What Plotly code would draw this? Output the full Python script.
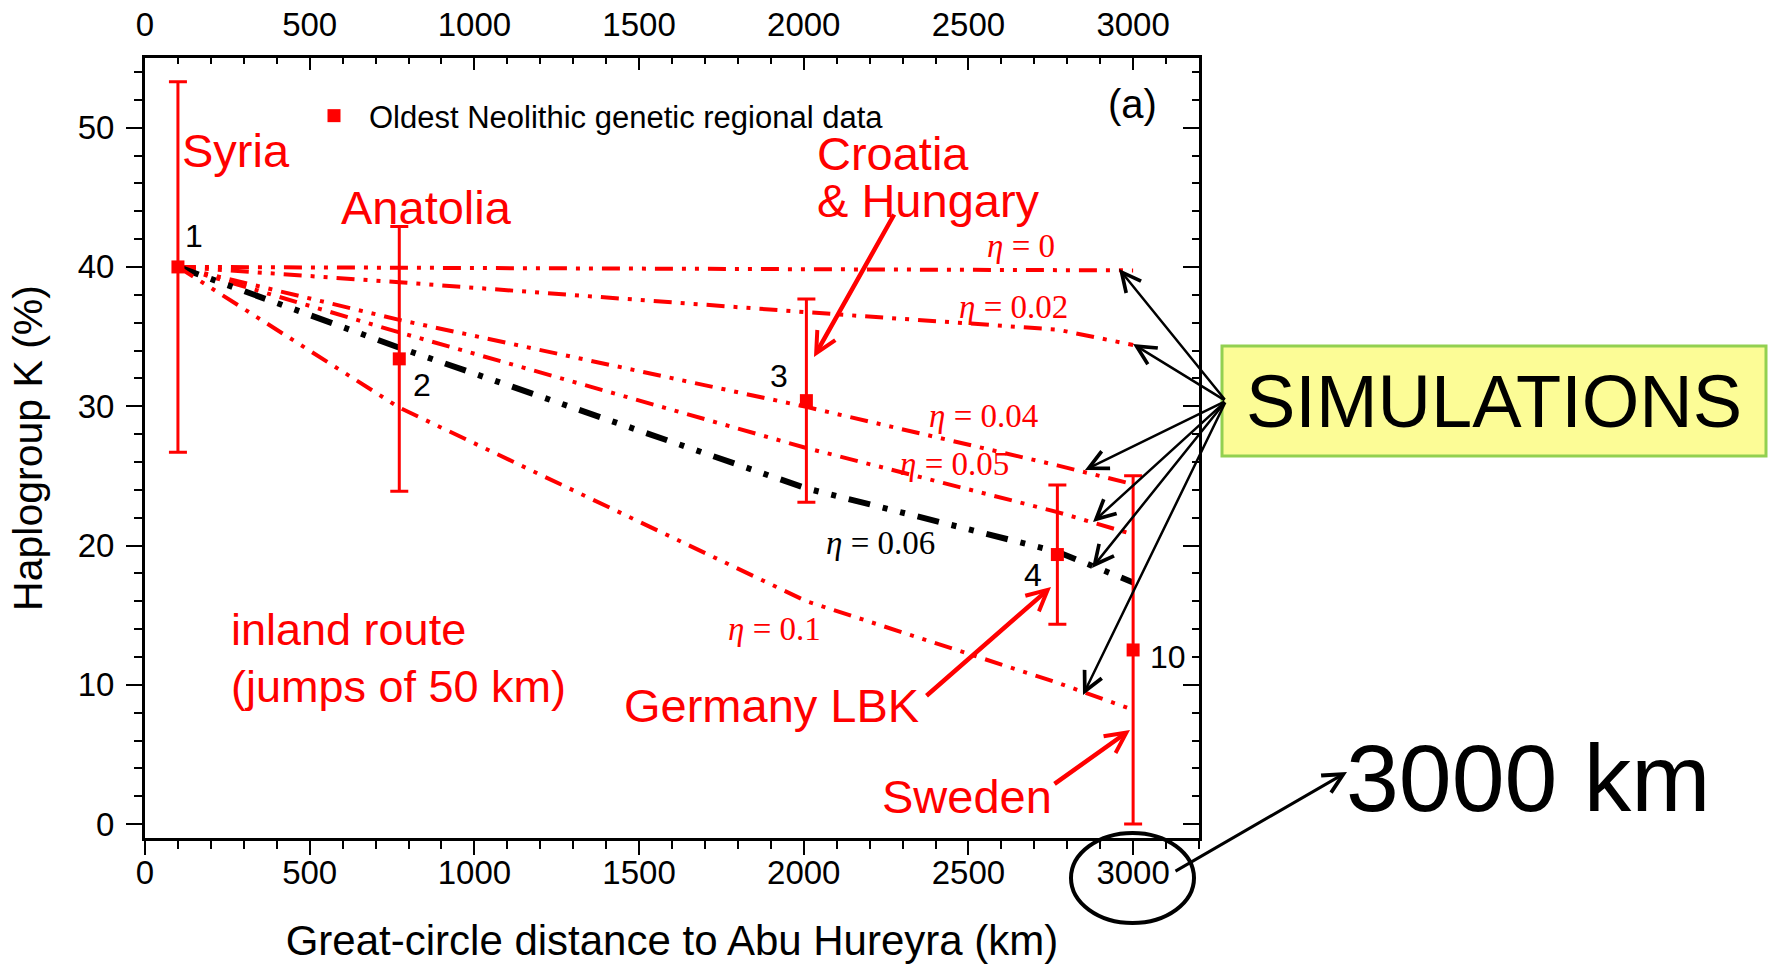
import plotly.graph_objects as go

# ---------------- data ----------------
site_names = ["Syria", "Anatolia", "Croatia & Hungary", "Germany LBK", "Sweden"]
site_ids = ["1", "2", "3", "4", "10"]
site_dist = [100, 772, 2008, 2770, 3000]
site_k = [40.0, 33.4, 30.4, 19.35, 12.5]
site_err = [13.3, 9.5, 7.3, 5.0, 12.5]

sim_dist = [100, 772, 2008, 2770, 3000]
sim_eta_0 = [40, 39.95, 39.85, 39.8, 39.75]
sim_eta_002 = [40, 38.9, 36.75, 35.5, 34.4]
sim_eta_004 = [40, 36.2, 29.95, 25.75, 24.4]
sim_eta_005 = [40, 35.3, 27.0, 22.4, 20.8]
sim_eta_006 = [40, 34.2, 24.1, 19.55, 17.35]
sim_eta_01 = [40, 29.9, 16.0, 10.15, 8.2]

x_ticks = [0, 500, 1000, 1500, 2000, 2500, 3000]
y_ticks = [0, 10, 20, 30, 40, 50]

# ---------------- layout geometry ----------------
W, H = 1771, 967
PLOT_L, PLOT_T, PW, PH = 145, 58, 1054, 780   # plot area in window pixels
ML, MT = PLOT_L, PLOT_T
MR, MB = W - ML - PW, H - MT - PH

def PX(px):
    return (px - PLOT_L) / PW

def PY(py):
    return (PLOT_T + PH - py) / PH

SANS = "Liberation Sans, Arial, sans-serif"
SERIF = "Liberation Serif, Times New Roman, serif"
RED = "#ff0000"

RED_DASH = "18px,9px,4px,9px,4px,9px"
BLK_DASH = "22px,13px,5px,13px,5px,13px"

fig = go.Figure()

sims = [
    (sim_eta_0, RED, 4, RED_DASH),
    (sim_eta_002, RED, 4, RED_DASH),
    (sim_eta_004, RED, 4, RED_DASH),
    (sim_eta_005, RED, 4, RED_DASH),
    (sim_eta_006, "black", 6, BLK_DASH),
    (sim_eta_01, RED, 4, RED_DASH),
]
for ys, col, w, dash in sims:
    fig.add_trace(go.Scatter(
        x=sim_dist, y=ys, mode="lines", showlegend=False, hoverinfo="skip",
        line=dict(color=col, width=w, dash=dash),
    ))

fig.add_trace(go.Scatter(
    x=site_dist, y=site_k, mode="markers",
    name="Oldest Neolithic genetic regional data",
    text=site_names,
    marker=dict(symbol="square", size=13, color=RED),
    error_y=dict(type="data", array=site_err, visible=True,
                 color=RED, thickness=3, width=9),
))

# ---------------- axes ----------------
tickfont = dict(family=SANS, size=33, color="black")
common_x = dict(range=[0, 3200], tickmode="array", tickvals=x_ticks,
                showgrid=False, zeroline=False, showline=True,
                linecolor="black", linewidth=3, tickcolor="black",
                tickwidth=2, tickfont=tickfont, automargin=False)
fig.update_layout(
    xaxis=dict(**common_x, ticks="outside", ticklen=14, ticklabelstandoff=-11,
               minor=dict(tickmode="linear", tick0=0, dtick=100,
                          ticks="outside", ticklen=8, tickwidth=2,
                          tickcolor="black", showgrid=False),
               title=dict(text="Great-circle distance to Abu Hureyra (km)",
                          font=dict(family=SANS, size=42, color="black"),
                          standoff=37)),
    xaxis2=dict(**common_x, overlaying="x", side="top", anchor="y",
                ticks="inside", ticklen=12, ticklabelstandoff=6,
                minor=dict(tickmode="linear", tick0=0, dtick=100,
                           ticks="inside", ticklen=6, tickwidth=2,
                           tickcolor="black", showgrid=False)),
    yaxis=dict(range=[-1, 55], tickmode="array", tickvals=y_ticks,
               showgrid=False, zeroline=False, showline=True,
               linecolor="black", linewidth=3, ticks="outside", ticklen=16,
               tickwidth=2, tickcolor="black", tickfont=tickfont,
               ticklabelstandoff=5, automargin=False,
               minor=dict(tickmode="linear", tick0=0, dtick=2,
                          ticks="outside", ticklen=8, tickwidth=2,
                          tickcolor="black", showgrid=False),
               title=dict(text="Haplogroup K (%)",
                          font=dict(family=SANS, size=41, color="black"),
                          standoff=23)),
    yaxis2=dict(range=[-1, 55], overlaying="y", side="right", anchor="x",
                tickmode="array", tickvals=y_ticks, showticklabels=False,
                showgrid=False, zeroline=False, showline=True,
                linecolor="black", linewidth=3, ticks="inside", ticklen=16,
                tickwidth=2, tickcolor="black", automargin=False,
                minor=dict(tickmode="linear", tick0=0, dtick=2,
                           ticks="inside", ticklen=7, tickwidth=2,
                           tickcolor="black", showgrid=False)),
)

# invisible traces to bind the mirrored axes
fig.add_trace(go.Scatter(x=[None], y=[None], xaxis="x2", yaxis="y",
                         showlegend=False, hoverinfo="skip"))
fig.add_trace(go.Scatter(x=[None], y=[None], xaxis="x", yaxis="y2",
                         showlegend=False, hoverinfo="skip"))

# ---------------- annotations ----------------
ann = []

def text(t, px, py, size, color="black", family=SANS, xanchor="center"):
    ann.append(dict(text=t, x=PX(px), y=PY(py), xref="paper", yref="paper",
                    xanchor=xanchor, yanchor="middle", showarrow=False,
                    font=dict(family=family, size=size, color=color)))

# region labels
text("Syria", 180, 150, 47, RED, xanchor="left")
text("Anatolia", 339, 207, 47, RED, xanchor="left")
text("Croatia", 815, 153, 47, RED, xanchor="left")
text("&amp; Hungary", 815, 200, 47, RED, xanchor="left")
text("Germany LBK", 622, 705, 47, RED, xanchor="left")
text("Sweden", 880, 796, 47, RED, xanchor="left")
text("inland route", 229, 629, 45, RED, xanchor="left")
text("(jumps of 50 km)", 229, 686, 45, RED, xanchor="left")

# site numbers
for lab, (px, py) in zip(site_ids, [(194, 236), (422, 385), (779, 376),
                                    (1033, 575), (1168, 657)]):
    text(lab, px, py, 32)

text("(a)", 1132, 104, 40)

# eta labels
eta_pos = [("0", 1021, 246, RED), ("0.02", 1013, 307, RED),
           ("0.04", 983, 416, RED), ("0.05", 954, 464, RED),
           ("0.06", 880, 543, "black"), ("0.1", 774, 629, RED)]
for lab, px, py, col in eta_pos:
    text("<i>η</i> = " + lab, px, py, 33, col, family=SERIF)

text("SIMULATIONS", 1494, 401, 74)
text("3000 km", 1344, 778, 95, xanchor="left")

def arrow(head, tail, color, width, size):
    ann.append(dict(text="", x=PX(head[0]), y=PY(head[1]),
                    xref="paper", yref="paper",
                    ax=tail[0] - head[0], ay=tail[1] - head[1],
                    showarrow=True, arrowhead=5, arrowsize=size,
                    arrowwidth=width, arrowcolor=color, standoff=0))

origin = (1226, 401)
for head in [(1119, 269), (1133, 344), (1085, 470), (1093, 522),
             (1092, 568), (1083, 695)]:
    arrow(head, origin, "black", 2.5, 1.5)

arrow((814, 357), (895, 213), RED, 4.5, 0.9)
arrow((1051, 587), (925, 697), RED, 4.5, 0.9)
arrow((1130, 730), (1053, 785), RED, 4.5, 0.9)
arrow((1347, 772), (1174, 872), "black", 3, 1.3)

shapes = [
    dict(type="rect", xref="paper", yref="paper",
         x0=PX(1222), x1=PX(1766), y0=PY(456), y1=PY(346),
         fillcolor="#fcfc96", line=dict(color="#92d050", width=3), layer="below"),
    dict(type="circle", xref="paper", yref="paper",
         x0=PX(1071), x1=PX(1194), y0=PY(923), y1=PY(833),
         line=dict(color="black", width=4)),
]

fig.update_layout(
    width=W, height=H, autosize=False,
    margin=dict(l=ML, r=MR, t=MT, b=MB, pad=0, autoexpand=False),
    paper_bgcolor="white", plot_bgcolor="white",
    annotations=ann, shapes=shapes,
    showlegend=True,
    legend=dict(x=PX(299), y=PY(116), xanchor="left", yanchor="middle",
                bgcolor="rgba(0,0,0,0)", itemwidth=60,
                font=dict(family=SANS, size=31, color="black")),
)

fig.write_html(
    "out.html",
    config={"displayModeBar": False},
    post_script="document.body.style.margin='0px';"
                "document.body.style.overflow='hidden';",
)
